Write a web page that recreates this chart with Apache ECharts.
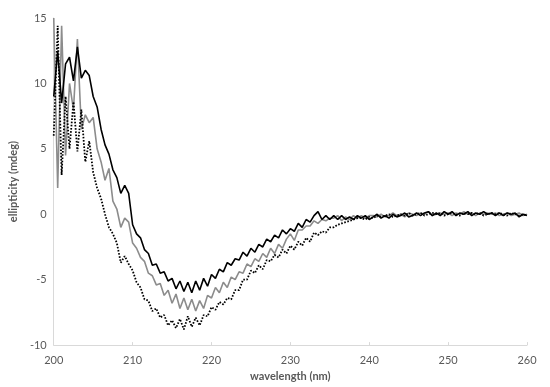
<!DOCTYPE html>
<html>
<head>
<meta charset="utf-8">
<script src="https://cdn.jsdelivr.net/npm/echarts@6/dist/echarts.min.js"></script>
<style>
html,body{margin:0;padding:0;background:#fff;}
#chart{width:550px;height:387px;}
</style>
</head>
<body>
<div id="chart"></div>
<script>
// Wavelength sampling (nm): first value and spacing of the samples below
const wlStart = 200;
const wlStep = 0.5;

const xTicks = [200, 210, 220, 230, 240, 250, 260];
const yTicks = [-10, -5, 0, 5, 10, 15];

// Series 1: black solid
const seriesBlack = [
  9.0,12.5,8.5,11.5,12.0,10.2,12.8,10.4,11.0,10.6,
  9.0,8.2,6.5,5.3,4.6,3.4,2.8,1.6,2.2,1.6,
  -0.8,-1.5,-1.8,-2.7,-3.0,-3.9,-3.8,-4.5,-4.4,-5.1,
  -4.9,-5.7,-5.1,-5.9,-5.2,-6.0,-5.1,-5.8,-4.9,-5.5,
  -4.6,-4.9,-4.2,-4.4,-3.7,-3.9,-3.4,-3.5,-2.9,-3.2,
  -2.6,-2.9,-2.3,-2.5,-1.9,-2.1,-1.6,-1.8,-1.2,-1.5,
  -1.1,-1.3,-0.7,-1.0,-0.4,-0.6,-0.1,0.2,-0.4,-0.1,
  -0.4,
  -0.1,-0.4,-0.1,-0.4,-0.2,-0.4,-0.1,-0.3,-0.1,-0.4,
  -0.2,0.0,-0.3,-0.1,-0.3,0.0,-0.2,-0.1,0.1,-0.2,
  -0.1,0.1,-0.1,0.1,0.2,-0.1,0.1,-0.1,0.2,0.0,
  0.2,-0.1,0.1,0.0,0.2,-0.1,0.1,0.0,0.2,0.0,
  0.1,-0.1,0.1,-0.1,0.1,0.0,0.1,-0.2,0.0,-0.1
];

// Series 2: grey solid
const seriesGrey = [
  15.0,2.0,14.4,4.5,10.0,8.0,13.4,6.5,7.6,7.0,
  7.4,5.0,4.0,2.6,3.5,1.0,0.4,-1.0,-0.3,-0.6,
  -2.2,-2.6,-3.3,-3.6,-4.5,-4.7,-5.4,-5.3,-6.2,-5.8,
  -6.8,-6.1,-7.2,-6.4,-7.3,-6.5,-7.4,-6.6,-7.2,-6.2,
  -6.4,-5.6,-6.0,-5.2,-5.6,-4.8,-5.0,-4.4,-4.5,-3.8,
  -4.0,-3.4,-3.6,-3.0,-3.3,-2.6,-3.0,-2.3,-2.6,-1.9,
  -1.5,-2.0,-1.2,-1.2,-0.9,-0.9,-0.5,-0.7,-0.4,-0.5,
  -0.3,
  -0.3,-0.1,-0.5,-0.2,-0.4,-0.1,-0.3,-0.1,-0.3,-0.1,
  -0.1,-0.2,0.0,-0.2,-0.1,0.1,-0.1,0.0,-0.2,0.1,
  0.0,-0.1,0.1,0.0,0.2,-0.1,0.0,0.1,0.0,0.1,
  -0.1,0.1,0.0,0.2,0.0,0.1,-0.1,0.1,0.0,0.1,
  0.0,0.1,-0.1,0.0,0.1,-0.1,0.0,0.1,-0.1,0.0
];

// Series 3: black dotted
const seriesDotted = [
  6.0,14.4,3.0,9.0,5.0,8.6,4.8,8.0,4.0,5.6,
  3.2,2.0,1.2,0.0,-1.0,-1.5,-2.2,-3.7,-3.2,-3.8,
  -4.3,-5.2,-5.6,-6.5,-6.6,-7.4,-7.2,-7.9,-7.7,-8.5,
  -8.1,-8.7,-8.0,-8.8,-7.8,-8.6,-7.9,-8.5,-7.7,-7.8,
  -7.1,-7.3,-6.7,-6.9,-6.4,-6.5,-5.8,-5.8,-5.0,-5.0,
  -4.3,-4.5,-3.9,-4.2,-3.5,-3.6,-3.1,-3.3,-2.7,-3.0,
  -2.4,-2.7,-2.1,-2.4,-1.8,-2.1,-1.4,-1.6,-1.3,-1.4,
  -1.0,
  -1.0,-0.8,-0.7,-0.6,-0.5,-0.4,-0.3,-0.3,-0.4,-0.2,
  -0.3,-0.1,-0.2,-0.1,0.0,-0.2,-0.1,0.0,-0.1,0.1,
  -0.1,0.0,0.1,-0.1,0.0,0.1,0.0,0.1,-0.1,0.0,
  0.1,0.0,-0.1,0.1,0.0,0.1,0.0,0.1,-0.1,0.0,
  0.1,0.0,0.1,0.0,-0.1,0.1,0.0,-0.1,0.0,-0.1
];

function pairs(vals) {
  return vals.map((v, i) => [wlStart + i * wlStep, v]);
}

const font = 'Lato, "Open Sans", sans-serif';
const chart = echarts.init(document.getElementById('chart'), null, {renderer: 'canvas'});
chart.setOption({
  animation: false,
  backgroundColor: '#ffffff',
  grid: {left: 39, right: 23, top: 18, bottom: 37, containLabel: false},
  xAxis: {
    type: 'value',
    min: xTicks[0], max: xTicks[xTicks.length - 1], interval: 10,
    name: 'wavelength (nm)',
    nameLocation: 'middle',
    nameGap: 21,
    nameTextStyle: {color: '#595959', fontSize: 11, fontWeight: 'bold', fontFamily: font},
    axisLine: {show: true, onZero: false, lineStyle: {color: '#d9d9d9', width: 1}},
    axisTick: {show: true, inside: true, length: 3, lineStyle: {color: '#d9d9d9'}},
    axisLabel: {color: '#595959', fontSize: 11, fontFamily: font, margin: 10},
    splitLine: {show: false}
  },
  yAxis: {
    type: 'value',
    min: yTicks[0], max: yTicks[yTicks.length - 1], interval: 5,
    name: 'ellipticity (mdeg)',
    nameLocation: 'middle',
    nameGap: 27,
    nameRotate: 90,
    nameTextStyle: {color: '#595959', fontSize: 11, fontWeight: 'bold', fontFamily: font},
    axisLine: {show: true, onZero: false, lineStyle: {color: '#d9d9d9', width: 1}},
    axisTick: {show: false},
    axisLabel: {color: '#595959', fontSize: 11, fontFamily: font, margin: 7},
    splitLine: {show: false}
  },
  series: [
    {
      name: 'grey', type: 'line', data: pairs(seriesGrey), showSymbol: false,
      lineStyle: {color: '#8c8c8c', width: 1.6}, z: 2
    },
    {
      name: 'dotted', type: 'line', data: pairs(seriesDotted), showSymbol: false,
      lineStyle: {color: '#000000', width: 1.8, type: [1.6, 1.6]}, z: 3
    },
    {
      name: 'black', type: 'line', data: pairs(seriesBlack), showSymbol: false,
      lineStyle: {color: '#000000', width: 1.6}, z: 4
    }
  ]
});
</script>
</body>
</html>
